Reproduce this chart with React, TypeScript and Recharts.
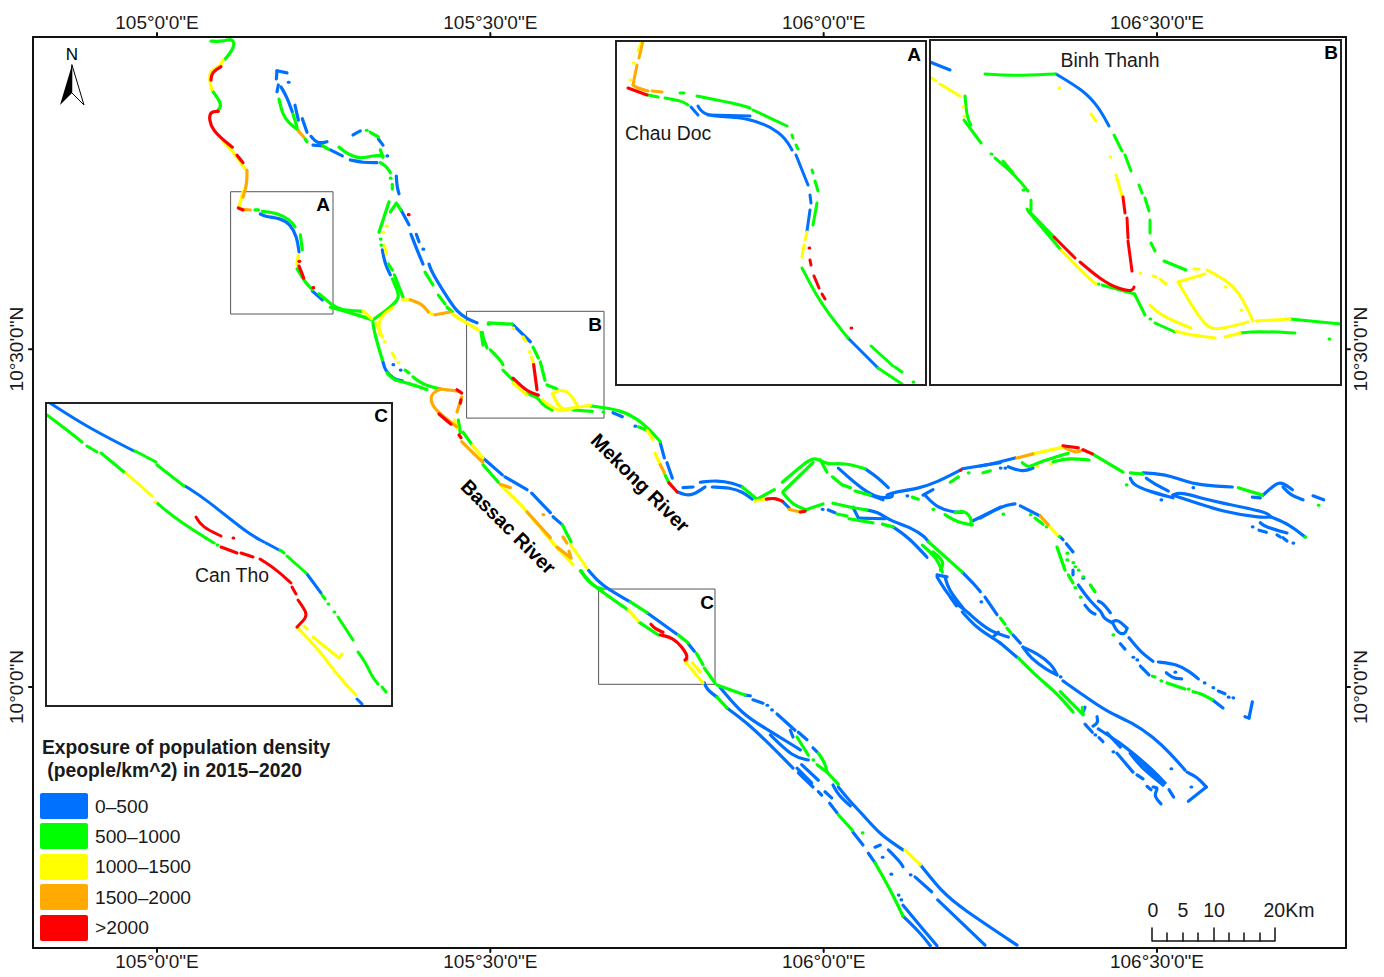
import { ComposedChart, Line, XAxis, YAxis, ReferenceArea } from "recharts"

type Pt = [number, number]
type Trace = Pt[]

// [lon, lat] runs along the river banks, grouped by density class. A run of one point is an isolated dot.
const mainBlue: Trace[] = [
  [[105.155,10.7],[105.162,10.696],[105.185,10.694],[105.2,10.685],[105.21,10.666],[105.213,10.644]],
  [[105.233,10.586],[105.248,10.573]],
  [[105.179,10.9],[105.18,10.912]],
  [[105.18,10.912],[105.195,10.909]],
  [[105.197,10.895]],
  [[105.182,10.891],[105.18,10.881]],
  [[105.186,10.888],[105.195,10.873],[105.203,10.851]],
  [[105.207,10.861],[105.212,10.839]],
  [[105.218,10.841],[105.225,10.821]],
  [[105.231,10.815],[105.24,10.804],[105.255,10.807]],
  [[105.234,10.802],[105.249,10.801]],
  [[105.26,10.795],[105.278,10.786]],
  [[105.29,10.78],[105.309,10.776],[105.33,10.776]],
  [[105.359,10.756],[105.36,10.74],[105.363,10.73]],
  [[105.345,10.786]],
  [[105.294,10.817],[105.305,10.823]],
  [[105.332,10.811],[105.339,10.802]],
  [[105.366,10.706],[105.378,10.684]],
  [[105.381,10.67],[105.39,10.647],[105.399,10.626]],
  [[105.389,10.67],[105.393,10.659]],
  [[105.399,10.648]],
  [[105.338,10.647],[105.342,10.626],[105.35,10.61]],
  [[105.408,10.626],[105.412,10.614],[105.435,10.577],[105.45,10.555],[105.465,10.545],[105.48,10.539]],
  [[105.339,10.481],[105.342,10.469],[105.354,10.456],[105.368,10.453]],
  [[105.354,10.477]],
  [[105.365,10.469]],
  [[105.489,10.339],[105.518,10.314]],
  [[105.522,10.311],[105.555,10.292]],
  [[105.562,10.287],[105.59,10.258]],
  [[105.594,10.252],[105.608,10.24]],
  [[105.533,10.537],[105.56,10.511]],
  [[105.684,10.406],[105.698,10.4]],
  [[105.717,10.386]],
  [[105.755,10.361],[105.761,10.339]],
  [[105.765,10.332],[105.773,10.309]],
  [[105.78,10.289],[105.792,10.284],[105.804,10.284],[105.822,10.296]],
  [[105.789,10.295],[105.804,10.296]],
  [[105.815,10.303],[105.84,10.306],[105.864,10.302],[105.878,10.296]],
  [[105.833,10.296],[105.86,10.295],[105.878,10.289],[105.893,10.278]],
  [[105.939,10.274],[105.948,10.265]],
  [[106.022,10.324],[106.05,10.299],[106.077,10.28],[106.103,10.28],[106.103,10.284]],
  [[106.062,10.323],[106.08,10.311],[106.097,10.295]],
  [[106.07,10.284],[106.089,10.277]],
  [[106.095,10.284],[106.107,10.289],[106.14,10.293],[106.17,10.303],[106.205,10.321]],
  [[106.208,10.323],[106.265,10.332]],
  [[106.125,10.283]],
  [[106.149,10.284],[106.164,10.292]],
  [[106.152,10.284],[106.17,10.265],[106.197,10.258],[106.209,10.259]],
  [[106.224,10.246],[106.265,10.266]],
  [[106.235,10.25],[106.269,10.269],[106.287,10.271]],
  [[106.295,10.268],[106.325,10.253]],
  [[105.998,10.263]],
  [[106.007,10.262],[106.017,10.258]],
  [[106.044,10.266],[106.052,10.25]],
  [[106.052,10.25],[106.092,10.249]],
  [[106.065,10.262],[106.082,10.259],[106.097,10.247],[106.134,10.235],[106.152,10.222],[106.157,10.215]],
  [[106.104,10.237],[106.127,10.222],[106.155,10.192]],
  [[106.17,10.166],[106.185,10.163]],
  [[106.17,10.163],[106.185,10.139],[106.2,10.121],[106.209,10.117],[106.232,10.096],[106.253,10.081],[106.277,10.074]],
  [[106.182,10.163],[106.187,10.144],[106.209,10.117]],
  [[106.19,10.133],[106.199,10.12]],
  [[106.208,10.17],[106.227,10.151],[106.235,10.141]],
  [[106.236,10.126]],
  [[106.242,10.133],[106.26,10.107]],
  [[106.284,10.077],[106.295,10.065]],
  [[106.208,10.111],[106.23,10.087],[106.253,10.073],[106.265,10.065]],
  [[106.253,10.073],[106.262,10.081]],
  [[106.265,10.065],[106.29,10.044]],
  [[106.299,10.059],[106.31,10.043],[106.335,10.025],[106.35,10.018]],
  [[106.35,10.018],[106.343,10.033],[106.32,10.05],[106.299,10.059]],
  [[106.355,10.015]],
  [[106.359,10.009],[106.385,9.991],[106.425,9.963],[106.464,9.947],[106.494,9.926],[106.52,9.902],[106.542,9.877]],
  [[106.545,9.874],[106.56,9.867],[106.574,9.852]],
  [[106.574,9.852],[106.547,9.831]],
  [[106.551,9.852]],
  [[106.521,9.879]],
  [[106.392,9.97],[106.389,9.963]],
  [[106.41,9.956],[106.412,9.947],[106.404,9.942]],
  [[106.392,9.945],[106.403,9.933]],
  [[106.407,9.929]],
  [[106.413,9.925],[106.419,9.919]],
  [[106.412,9.938],[106.445,9.917],[106.464,9.902],[106.494,9.877],[106.512,9.858]],
  [[106.425,9.932],[106.445,9.911]],
  [[106.46,9.902],[106.475,9.882],[106.509,9.855]],
  [[106.509,9.855],[106.485,9.882],[106.46,9.902]],
  [[106.434,9.904]],
  [[106.44,9.902],[106.464,9.874]],
  [[106.47,9.87],[106.479,9.864]],
  [[106.485,9.853],[106.491,9.848]],
  [[106.494,9.852],[106.503,9.851],[106.494,9.84],[106.506,9.827]],
  [[106.518,9.848],[106.525,9.837]],
  [[106.355,10.222],[106.359,10.218]],
  [[106.364,10.212],[106.374,10.2]],
  [[106.374,10.173],[106.374,10.166]],
  [[106.389,10.161]],
  [[106.382,10.151],[106.4,10.126],[106.418,10.111],[106.419,10.102],[106.433,10.095]],
  [[106.433,10.096],[106.44,10.101],[106.455,10.087]],
  [[106.455,10.087],[106.452,10.077],[106.44,10.081],[106.433,10.096]],
  [[106.392,10.121],[106.4,10.111],[106.407,10.108]],
  [[106.412,10.127],[106.419,10.124],[106.43,10.11]],
  [[106.445,10.064],[106.452,10.056]],
  [[106.458,10.073],[106.475,10.052],[106.494,10.038]],
  [[106.502,10.037],[106.53,10.034],[106.55,10.022],[106.562,10.012]],
  [[106.514,10.021],[106.524,10.013],[106.537,10.012]],
  [[106.527,10.022]],
  [[106.464,10.044]],
  [[106.47,10.04]],
  [[106.475,10.031],[106.488,10.018]],
  [[106.583,9.981],[106.599,9.969]],
  [[106.571,10.006]],
  [[106.584,9.999]],
  [[106.592,9.994],[106.602,9.99]],
  [[106.607,9.985]],
  [[106.614,9.984]],
  [[106.643,9.978],[106.638,9.954]],
  [[106.638,9.954],[106.632,9.956]],
  [[106.235,10.327],[106.26,10.332],[106.287,10.339]],
  [[106.277,10.326],[106.299,10.318],[106.314,10.324]],
  [[106.265,10.324]],
  [[106.272,10.324]],
  [[106.479,10.317],[106.52,10.314],[106.554,10.299],[106.613,10.296]],
  [[106.484,10.309],[106.494,10.302],[106.517,10.29]],
  [[106.46,10.309],[106.464,10.299],[106.49,10.289],[106.524,10.28]],
  [[106.554,10.295]],
  [[106.506,10.277]],
  [[106.524,10.284],[106.535,10.289],[106.575,10.277],[106.599,10.272],[106.665,10.259],[106.67,10.252]],
  [[106.67,10.252],[106.659,10.25],[106.599,10.259],[106.545,10.277],[106.524,10.284]],
  [[106.67,10.252],[106.7,10.24],[106.722,10.222]],
  [[106.655,10.243],[106.662,10.237],[106.695,10.228]],
  [[106.653,10.232],[106.664,10.229]],
  [[106.643,10.237]],
  [[106.68,10.225],[106.685,10.222]],
  [[106.689,10.221],[106.695,10.216]],
  [[106.704,10.213]],
  [[106.643,10.281],[106.655,10.28]],
  [[106.659,10.284],[106.68,10.303],[106.689,10.302],[106.703,10.292]],
  [[106.689,10.296],[106.7,10.284],[106.719,10.277]],
  [[106.734,10.283],[106.75,10.277]],
  [[105.647,10.173],[105.665,10.151],[105.71,10.126]],
  [[105.735,10.11],[105.78,10.078]],
  [[105.797,10.064],[105.806,10.053]],
  [[105.821,10.006],[105.825,9.996],[105.84,9.985]],
  [[105.855,9.969],[105.885,9.947],[105.915,9.919],[105.954,9.88]],
  [[105.845,9.999],[105.879,9.959],[105.909,9.941],[105.965,9.907]],
  [[105.882,9.988],[105.89,9.987]],
  [[105.894,9.981],[105.909,9.976]],
  [[105.915,9.973]],
  [[105.922,9.966]],
  [[105.93,9.96],[105.957,9.936]],
  [[105.95,9.936],[105.954,9.926]],
  [[105.962,9.933],[105.975,9.922]],
  [[105.92,9.929],[105.954,9.896],[105.977,9.892]],
  [[105.984,9.91],[105.99,9.904]],
  [[105.96,9.88],[105.982,9.858]],
  [[105.967,9.885],[105.992,9.862]],
  [[105.962,9.873],[105.984,9.852]],
  [[105.992,9.845],[105.997,9.84]],
  [[106.002,9.845],[106.012,9.836]],
  [[106.009,9.828],[106.02,9.814]],
  [[106.014,9.855],[106.022,9.84],[106.04,9.824]],
  [[106.022,9.852],[106.04,9.83],[106.059,9.811],[106.085,9.781],[106.119,9.759]],
  [[106.145,9.737],[106.179,9.695],[106.205,9.674],[106.29,9.618]],
  [[106.044,9.785],[106.059,9.766]],
  [[106.077,9.763],[106.085,9.766]],
  [[106.088,9.748]],
  [[106.067,9.754],[106.077,9.74]],
  [[106.097,9.759],[106.115,9.741],[106.119,9.734]],
  [[106.13,9.722]],
  [[106.137,9.719],[106.162,9.697]],
  [[106.171,9.685],[106.242,9.618]],
  [[106.101,9.723]],
  [[106.119,9.661],[106.145,9.636],[106.16,9.617]],
  [[106.119,9.677],[106.14,9.652],[106.17,9.617]],
  [[106.112,9.692]],
  [[106.116,9.685]],
]

const mainGreen: Trace[] = [
  [[105.081,10.956],[105.099,10.955],[105.114,10.961],[105.117,10.947],[105.102,10.929]],
  [[105.084,10.881],[105.095,10.866],[105.096,10.858],[105.09,10.852]],
  [[105.147,10.706],[105.152,10.706]],
  [[105.158,10.704],[105.18,10.702],[105.2,10.691],[105.207,10.681]],
  [[105.215,10.669],[105.218,10.647]],
  [[105.21,10.619],[105.222,10.599],[105.233,10.588]],
  [[105.243,10.582],[105.264,10.564],[105.275,10.558],[105.309,10.556]],
  [[105.26,10.562],[105.3,10.551],[105.324,10.543]],
  [[105.183,10.87],[105.188,10.848],[105.197,10.835],[105.212,10.824]],
  [[105.222,10.811],[105.225,10.807]],
  [[105.204,10.848],[105.21,10.829]],
  [[105.249,10.801],[105.257,10.796]],
  [[105.273,10.799],[105.285,10.789],[105.305,10.781],[105.324,10.787],[105.339,10.786]],
  [[105.335,10.795],[105.339,10.784]],
  [[105.335,10.776],[105.345,10.77],[105.35,10.761]],
  [[105.35,10.753]],
  [[105.353,10.744],[105.353,10.737]],
  [[105.314,10.824]],
  [[105.32,10.821],[105.332,10.814]],
  [[105.348,10.718],[105.342,10.7],[105.333,10.673]],
  [[105.35,10.703],[105.359,10.716]],
  [[105.359,10.716],[105.366,10.706]],
  [[105.335,10.663]],
  [[105.336,10.654]],
  [[105.347,10.626],[105.353,10.617]],
  [[105.356,10.61],[105.369,10.577]],
  [[105.353,10.604],[105.363,10.582],[105.362,10.573],[105.345,10.558],[105.326,10.545]],
  [[105.402,10.614],[105.414,10.595]],
  [[105.422,10.58],[105.432,10.567]],
  [[105.435,10.562],[105.443,10.555]],
  [[105.488,10.525],[105.489,10.518]],
  [[105.497,10.537]],
  [[105.324,10.539],[105.326,10.524],[105.338,10.484]],
  [[105.345,10.465],[105.354,10.454],[105.377,10.45],[105.405,10.44]],
  [[105.384,10.459],[105.399,10.447],[105.425,10.441]],
  [[105.372,10.469],[105.378,10.465]],
  [[105.452,10.395],[105.455,10.376]],
  [[105.459,10.377],[105.473,10.358]],
  [[105.489,10.329],[105.512,10.303]],
  [[105.608,10.24],[105.621,10.215]],
  [[105.636,10.172],[105.654,10.148],[105.669,10.145]],
  [[105.497,10.539],[105.533,10.537]],
  [[105.564,10.503],[105.572,10.487]],
  [[105.575,10.481],[105.582,10.454]],
  [[105.585,10.447],[105.6,10.441]],
  [[105.486,10.525],[105.489,10.506]],
  [[105.489,10.517],[105.495,10.502]],
  [[105.5,10.499],[105.515,10.484],[105.519,10.477]],
  [[105.519,10.469],[105.534,10.454]],
  [[105.555,10.434],[105.572,10.429],[105.578,10.417],[105.593,10.41]],
  [[105.624,10.41],[105.653,10.408]],
  [[105.65,10.416],[105.695,10.411],[105.729,10.392],[105.755,10.363]],
  [[105.669,10.407]],
  [[105.722,10.385],[105.735,10.38]],
  [[105.762,10.314],[105.768,10.302]],
  [[105.878,10.296],[105.9,10.278]],
  [[105.9,10.278],[105.926,10.292]],
  [[105.972,10.262],[105.999,10.271]],
  [[105.938,10.303],[105.972,10.332],[105.984,10.339],[105.995,10.336],[106.005,10.329],[106.032,10.332],[106.062,10.323]],
  [[105.939,10.289],[105.984,10.332]],
  [[105.939,10.287],[105.954,10.269],[105.975,10.262]],
  [[105.995,10.336],[106.005,10.318]],
  [[106.013,10.311],[106.028,10.299]],
  [[106.029,10.299],[106.04,10.295]],
  [[106.047,10.29],[106.07,10.284]],
  [[106.19,10.303],[106.202,10.311]],
  [[106.217,10.317]],
  [[106.239,10.317],[106.25,10.32]],
  [[106.133,10.281],[106.142,10.278]],
  [[106.197,10.258],[106.212,10.262],[106.223,10.247],[106.22,10.24]],
  [[106.182,10.255],[106.202,10.243],[106.223,10.24]],
  [[106.164,10.263]],
  [[106.02,10.256],[106.035,10.253]],
  [[106.014,10.272],[106.044,10.265],[106.065,10.262]],
  [[106.038,10.249],[106.074,10.243]],
  [[106.088,10.241],[106.104,10.237]],
  [[106.157,10.215],[106.208,10.17]],
  [[106.148,10.21],[106.17,10.191],[106.178,10.17]],
  [[106.164,10.2],[106.182,10.185],[106.175,10.173]],
  [[106.265,10.102],[106.272,10.093]],
  [[106.275,10.087],[106.281,10.08]],
  [[106.292,10.043],[106.32,10.015],[106.35,9.991],[106.374,9.963]],
  [[106.355,9.993],[106.389,9.959]],
  [[106.388,9.97],[106.389,9.959]],
  [[106.35,10.207],[106.362,10.173]],
  [[106.365,10.198]],
  [[106.365,10.188]],
  [[106.374,10.184]],
  [[106.377,10.178]],
  [[106.382,10.173]],
  [[106.389,10.163]],
  [[106.377,10.147]],
  [[106.385,10.133]],
  [[106.434,10.077]],
  [[106.367,10.166],[106.374,10.154]],
  [[106.4,10.151],[106.407,10.141]],
  [[106.493,10.016],[106.497,10.015]],
  [[106.506,10.009]],
  [[106.515,10.006],[106.542,9.997]],
  [[106.547,9.997]],
  [[106.554,9.993],[106.565,9.991],[106.583,9.981]],
  [[106.403,10.345],[106.449,10.318]],
  [[106.367,10.346],[106.32,10.332],[106.307,10.324],[106.298,10.332]],
  [[106.344,10.333],[106.367,10.339],[106.398,10.336]],
  [[106.46,10.317],[106.479,10.315]],
  [[106.454,10.299]],
  [[106.622,10.295],[106.658,10.284]],
  [[106.742,10.269]],
  [[106.722,10.222]],
  [[106.317,10.25],[106.329,10.241]],
  [[106.269,10.256]],
  [[106.31,10.255]],
  [[106.334,10.237]],
  [[106.353,10.223]],
  [[105.635,10.172],[105.645,10.158],[105.662,10.145],[105.705,10.115]],
  [[105.71,10.126],[105.735,10.11]],
  [[105.782,10.077],[105.797,10.065]],
  [[105.809,10.05],[105.819,10.033]],
  [[105.821,10.028],[105.837,10.006]],
  [[105.723,10.096],[105.752,10.077]],
  [[105.84,9.985],[105.855,9.969]],
  [[105.84,10.003],[105.882,9.988]],
  [[105.96,9.926],[105.977,9.899]],
  [[105.992,9.902],[106.002,9.888],[106.005,9.874]],
  [[106.005,9.874],[105.99,9.885]],
  [[105.984,9.892]],
  [[106.005,9.874],[106.022,9.856]],
  [[106.022,9.811],[106.043,9.788]],
  [[106.058,9.784]],
  [[106.077,9.74],[106.1,9.7],[106.119,9.661]],
]

const mainYellow: Trace[] = [
  [[105.099,10.928],[105.095,10.918],[105.081,10.913],[105.078,10.903],[105.082,10.884]],
  [[105.099,10.808],[105.117,10.789],[105.132,10.767]],
  [[105.129,10.733],[105.123,10.71]],
  [[105.212,10.639],[105.21,10.625]],
  [[105.309,10.556],[105.322,10.545]],
  [[105.344,10.682]],
  [[105.339,10.673]],
  [[105.341,10.654],[105.344,10.641]],
  [[105.354,10.562],[105.33,10.545],[105.335,10.521]],
  [[105.368,10.573],[105.38,10.573]],
  [[105.407,10.555],[105.414,10.551]],
  [[105.443,10.552],[105.48,10.53]],
  [[105.329,10.539],[105.338,10.518]],
  [[105.341,10.511]],
  [[105.353,10.494],[105.357,10.487]],
  [[105.362,10.48]],
  [[105.446,10.395],[105.45,10.383]],
  [[105.473,10.358],[105.489,10.339]],
  [[105.621,10.21],[105.645,10.176]],
  [[105.515,10.299],[105.555,10.262],[105.585,10.222],[105.624,10.181]],
  [[105.444,10.551],[105.482,10.528]],
  [[105.534,10.531]],
  [[105.549,10.518],[105.553,10.512]],
  [[105.558,10.496]],
  [[105.562,10.488],[105.565,10.477]],
  [[105.534,10.45],[105.555,10.432]],
  [[105.593,10.434],[105.605,10.441],[105.62,10.435],[105.63,10.417]],
  [[105.593,10.434],[105.602,10.417],[105.608,10.41],[105.63,10.414]],
  [[105.578,10.425],[105.593,10.413],[105.609,10.407],[105.624,10.413]],
  [[105.63,10.414],[105.65,10.417]],
  [[105.735,10.38],[105.744,10.366]],
  [[105.747,10.346],[105.755,10.329]],
  [[105.897,10.275],[105.912,10.278]],
  [[106.314,10.345],[106.359,10.355]],
  [[106.32,10.326]],
  [[106.34,10.33]],
  [[106.337,10.24],[106.35,10.225]],
  [[105.707,10.114],[105.722,10.098]],
  [[105.792,10.038],[105.819,10.006]],
  [[105.803,10.036],[105.815,10.022]],
  [[106.122,9.759],[106.145,9.737]],
]

const mainOrange: Trace[] = [
  [[105.135,10.765],[105.135,10.744],[105.129,10.725]],
  [[105.129,10.707],[105.14,10.706]],
  [[105.212,10.823],[105.22,10.814]],
  [[105.38,10.573],[105.398,10.567],[105.407,10.555]],
  [[105.417,10.551],[105.44,10.555]],
  [[105.425,10.441],[105.452,10.438]],
  [[105.457,10.429],[105.45,10.407]],
  [[105.425,10.441],[105.412,10.435],[105.41,10.422],[105.42,10.407],[105.45,10.385]],
  [[105.457,10.363],[105.489,10.332]],
  [[105.515,10.3],[105.53,10.295]],
  [[105.555,10.259],[105.59,10.221]],
  [[105.6,10.207],[105.621,10.191]],
  [[105.621,10.191],[105.618,10.201]],
  [[105.609,10.222],[105.615,10.213]],
  [[105.579,10.255]],
  [[105.755,10.329],[105.761,10.317]],
  [[105.948,10.263],[105.965,10.259]],
  [[106.29,10.339],[106.314,10.345]],
  [[106.362,10.354],[106.377,10.346],[106.389,10.351]],
  [[106.325,10.253],[106.337,10.24]],
  [[105.794,10.04]],
]

const mainRed: Trace[] = [
  [[105.096,10.918],[105.082,10.91],[105.081,10.898]],
  [[105.092,10.852],[105.08,10.852],[105.078,10.839],[105.084,10.824],[105.099,10.81],[105.113,10.799]],
  [[105.12,10.787],[105.129,10.776]],
  [[105.122,10.709],[105.129,10.706]],
  [[105.213,10.63]],
  [[105.213,10.623],[105.218,10.611],[105.22,10.605]],
  [[105.234,10.591]],
  [[105.377,10.699]],
  [[105.45,10.44],[105.457,10.435]],
  [[105.456,10.425],[105.455,10.42]],
  [[105.423,10.404],[105.441,10.389]],
  [[105.453,10.373],[105.456,10.369]],
  [[105.565,10.477],[105.57,10.44]],
  [[105.534,10.457],[105.555,10.437],[105.572,10.432]],
  [[105.768,10.302],[105.78,10.289]],
  [[105.914,10.278],[105.927,10.28],[105.938,10.275]],
  [[105.965,10.259],[105.972,10.26]],
  [[106.205,10.321]],
  [[106.359,10.357],[106.382,10.354]],
  [[106.389,10.351],[106.403,10.345]],
  [[105.741,10.093],[105.747,10.086],[105.759,10.081]],
  [[105.755,10.077],[105.774,10.073],[105.788,10.059],[105.797,10.044],[105.792,10.04]],
]

const insetABlue: Trace[] = [
  [[105.148,10.7],[105.1515,10.696]],
  [[105.1515,10.7005],[105.1535,10.697],[105.16,10.695],[105.1765,10.695],[105.1935,10.6875],[105.1985,10.6785]],
  [[105.1565,10.696],[105.1775,10.6955]],
  [[105.2005,10.676],[105.2065,10.661]],
  [[105.2075,10.656],[105.208,10.652]],
  [[105.2075,10.6485],[105.206,10.638]],
  [[105.2265,10.5845],[105.2415,10.5695]],
]
const insetAGreen: Trace[] = [
  [[105.1265,10.706],[105.1315,10.705]],
  [[105.135,10.7045],[105.1435,10.703],[105.1465,10.701]],
  [[105.1425,10.707],[105.1445,10.707]],
  [[105.151,10.7055],[105.1735,10.701],[105.1775,10.6995]],
  [[105.179,10.6985],[105.196,10.6905]],
  [[105.1985,10.686],[105.199,10.6845]],
  [[105.2005,10.681],[105.2015,10.679]],
  [[105.2085,10.6685],[105.209,10.667]],
  [[105.21,10.663],[105.2115,10.658]],
  [[105.211,10.652],[105.209,10.641]],
  [[105.2035,10.6195],[105.21,10.607],[105.2165,10.597],[105.2265,10.5845]],
  [[105.2415,10.5695],[105.2535,10.5615]],
  [[105.238,10.5805],[105.249,10.5705]],
  [[105.25,10.57],[105.2535,10.5675]],
  [[105.259,10.5625]],
]
const insetAYellow: Trace[] = [
  [[105.1215,10.728],[105.1235,10.733]],
  [[105.119,10.722]],
  [[105.1175,10.7135]],
  [[105.206,10.6375],[105.205,10.6335]],
  [[105.2045,10.631],[105.2035,10.625]],
]
const insetAOrange: Trace[] = [
  [[105.124,10.733],[105.122,10.7245]],
  [[105.121,10.721],[105.119,10.711]],
  [[105.119,10.711],[105.121,10.7095],[105.1265,10.708]],
  [[105.1285,10.708],[105.1335,10.7075]],
]
const insetARed: Trace[] = [
  [[105.1165,10.7095],[105.126,10.706]],
  [[105.207,10.6295]],
  [[105.2075,10.6235],[105.208,10.621]],
  [[105.2095,10.6155],[105.212,10.6095]],
  [[105.2135,10.6065],[105.215,10.604]],
  [[105.228,10.5895]],
]

const insetBBlue: Trace[] = [
  [[105.4655,10.545],[105.4755,10.541]],
  [[105.5285,10.539],[105.542,10.531],[105.5495,10.523],[105.555,10.513]],
]
const insetBGreen: Trace[] = [
  [[105.493,10.539],[105.506,10.538],[105.528,10.539]],
  [[105.483,10.528],[105.484,10.517],[105.486,10.5135]],
  [[105.4825,10.516],[105.491,10.5045]],
  [[105.496,10.499]],
  [[105.498,10.497],[105.508,10.4885],[105.5145,10.4805]],
  [[105.502,10.4955],[105.507,10.4895]],
  [[105.512,10.481]],
  [[105.516,10.476],[105.516,10.471]],
  [[105.514,10.4715],[105.528,10.457]],
  [[105.5145,10.4705],[105.531,10.451]],
  [[105.5495,10.434]],
  [[105.5515,10.4335],[105.568,10.429]],
  [[105.568,10.4285],[105.573,10.4185]],
  [[105.5755,10.4165]],
  [[105.578,10.4145],[105.588,10.41]],
  [[105.5575,10.5085],[105.5615,10.5005]],
  [[105.563,10.4985],[105.566,10.4905]],
  [[105.57,10.4835],[105.5715,10.4795]],
  [[105.573,10.477],[105.575,10.4705]],
  [[105.5755,10.466],[105.5755,10.4595]],
  [[105.576,10.4545],[105.578,10.4505]],
  [[105.5825,10.4455],[105.5935,10.441]],
  [[105.6205,10.4095],[105.6285,10.4105],[105.648,10.4095]],
  [[105.6455,10.4165],[105.671,10.414]],
  [[105.665,10.4065]],
]
const insetBYellow: Trace[] = [
  [[105.4655,10.5375],[105.4685,10.5355]],
  [[105.4705,10.534],[105.4805,10.528]],
  [[105.482,10.5225]],
  [[105.4825,10.518]],
  [[105.53,10.532]],
  [[105.5555,10.4975]],
  [[105.5705,10.4395]],
  [[105.613,10.4325]],
  [[105.621,10.421]],
  [[105.546,10.519],[105.5485,10.5155]],
  [[105.5585,10.4885],[105.5615,10.478]],
  [[105.531,10.451],[105.543,10.4385],[105.5485,10.434]],
  [[105.5975,10.4415],[105.6,10.4415]],
  [[105.604,10.441],[105.6145,10.4355],[105.621,10.4285],[105.627,10.4155]],
  [[105.5895,10.435],[105.603,10.439]],
  [[105.5895,10.435],[105.603,10.412],[105.6095,10.411],[105.6245,10.415]],
  [[105.577,10.438],[105.5785,10.4375]],
  [[105.5805,10.4365],[105.5835,10.434]],
  [[105.5755,10.4235],[105.581,10.418],[105.596,10.412]],
  [[105.5885,10.4105],[105.593,10.409],[105.608,10.407]],
  [[105.613,10.4075],[105.6205,10.4095]],
  [[105.6285,10.4155],[105.6455,10.4165]],
]
const insetBRed: Trace[] = [
  [[105.5275,10.4575],[105.538,10.447]],
  [[105.5405,10.445],[105.551,10.436],[105.561,10.431],[105.567,10.4305],[105.5675,10.4325]],
  [[105.562,10.4775],[105.563,10.4695]],
  [[105.564,10.467],[105.5645,10.457]],
  [[105.5645,10.4555],[105.5665,10.4405]],
]

const insetCBlue: Trace[] = [
  [[105.665,10.145],[105.6835,10.133],[105.707,10.121]],
  [[105.7325,10.1035],[105.7435,10.0965],[105.7635,10.08],[105.772,10.0755]],
  [[105.773,10.075],[105.7795,10.0715]],
  [[105.7935,10.0595],[105.8005,10.05]],
  [[105.8185,9.997],[105.821,9.9945]],
]
const insetCGreen: Trace[] = [
  [[105.7075,10.121],[105.718,10.1155]],
  [[105.7185,10.114],[105.732,10.1035]],
  [[105.78,10.0715],[105.782,10.07]],
  [[105.7835,10.0685],[105.793,10.06]],
  [[105.801,10.049],[105.8025,10.047]],
  [[105.804,10.0445]],
  [[105.807,10.0405]],
  [[105.809,10.038],[105.8165,10.0265]],
  [[105.819,10.0205],[105.823,10.015],[105.826,10.008],[105.829,10.0045]],
  [[105.831,10.003],[105.833,10.0005]],
  [[105.6635,10.139],[105.6735,10.1315],[105.681,10.1255]],
  [[105.6835,10.1235],[105.6885,10.1205]],
  [[105.6905,10.12],[105.702,10.1105]],
  [[105.7185,10.095],[105.7285,10.0865],[105.747,10.075]],
  [[105.7485,10.074]],
]
const insetCYellow: Trace[] = [
  [[105.703,10.11],[105.716,10.0985]],
  [[105.7175,10.0955]],
  [[105.7885,10.033],[105.8005,10.0205],[105.8085,10.009],[105.818,9.999]],
  [[105.792,10.0335],[105.7935,10.032]],
  [[105.7965,10.028],[105.8095,10.0175]],
  [[105.8095,10.0175],[105.811,10.0195]],
]
const insetCOrange: Trace[] = [[[105.7885,10.033]]]
const insetCRed: Trace[] = [
  [[105.738,10.088],[105.741,10.083],[105.7505,10.0785]],
  [[105.7565,10.0775]],
  [[105.7505,10.073],[105.7585,10.07]],
  [[105.7605,10.07],[105.7665,10.068]],
  [[105.77,10.067],[105.7785,10.0615],[105.7855,10.055]],
  [[105.786,10.053],[105.788,10.0495]],
  [[105.789,10.0465],[105.7935,10.04],[105.793,10.0375],[105.7885,10.033]],
]

const lonTicks = [105, 105.5, 106, 106.5]
const latTicks = [10, 10.5]
const legendLabels = ["0–500", "500–1000", "1000–1500", "1500–2000", ">2000"]
const classColors = ["#0070ff", "#00ff00", "#ffff00", "#ffaa00", "#ff0000"]

const FONT = '"Liberation Sans", Arial, sans-serif'
const INK = "#1a1a1a"

function lonLabel(v: number) {
  const deg = Math.floor(v)
  const min = Math.round((v - deg) * 60)
  return `${deg}°${min}'0"E`
}

function latLabel(v: number) {
  const deg = Math.floor(v)
  const min = Math.round((v - deg) * 60)
  return `${deg}°${min}'0"N`
}

function LatTick({ x, y, payload, side }: any) {
  const tx = side === "left" ? x - 4 : x + 15
  return (
    <text
      x={tx}
      y={y}
      transform={`rotate(-90 ${tx} ${y})`}
      textAnchor="middle"
      fontSize={19}
      fontFamily={FONT}
      fill={INK}
    >
      {latLabel(payload.value)}
    </text>
  )
}

function LonTick({ x, y, payload, side }: any) {
  return (
    <text x={x} y={side === "top" ? y - 2 : y + 14} textAnchor="middle" fontSize={19} fontFamily={FONT} fill={INK}>
      {lonLabel(payload.value)}
    </text>
  )
}

function traceLines(groups: Trace[][], width: number, dotStep: number) {
  return groups.flatMap((group, c) =>
    group.map((trace, i) => {
      // a lone point still needs a short path so the round cap paints a dot
      const run: Trace = trace.length === 1 ? [trace[0], [trace[0][0] + dotStep, trace[0][1]]] : trace
      return (
        <Line
          key={`${c}-${i}`}
          type="basis"
          data={run.map(([lon, lat]) => ({ lon, lat }))}
          dataKey="lat"
          xAxisId="x"
          yAxisId="y"
          stroke={classColors[c]}
          strokeWidth={width}
          strokeLinecap="round"
          strokeLinejoin="round"
          dot={false}
          activeDot={false}
          isAnimationActive={false}
        />
      )
    }),
  )
}

function Inset({ left, top, width, height, lon, lat, groups, frame, letter }: any) {
  return (
    <>
      <div style={{ position: "absolute", left, top, width, height, background: "#fff", overflow: "hidden" }}>
        <ComposedChart width={width} height={height} margin={{ top: 0, right: 0, bottom: 0, left: 0 }}>
          <XAxis xAxisId="x" type="number" dataKey="lon" domain={lon} hide allowDataOverflow />
          <YAxis yAxisId="y" type="number" domain={lat} hide allowDataOverflow />
          {traceLines(groups, 3, 0.0004)}
        </ComposedChart>
      </div>
      <div
        style={{
          position: "absolute",
          left: frame[0],
          top: frame[1],
          width: frame[2],
          height: frame[3],
          boxSizing: "border-box",
          border: "2px solid #222",
        }}
      />
      <Label x={letter[0]} y={letter[1]} text={letter[2]} size={19} bold />
    </>
  )
}

function Label({ x, y, text, size = 19.4, bold = false, rotate = 0 }: any) {
  return (
    <div
      style={{
        position: "absolute",
        left: x,
        top: y,
        transform: `translate(-50%, -50%) rotate(${rotate}deg)`,
        fontFamily: FONT,
        fontSize: size,
        fontWeight: bold ? 700 : 400,
        color: bold ? "#000" : INK,
        whiteSpace: "nowrap",
      }}
    >
      {text}
    </div>
  )
}

export default function App() {
  const scaleTicks = [1152, 1167, 1183, 1198, 1214, 1229, 1244, 1260, 1275]
  return (
    <div
      style={{
        position: "absolute",
        left: 0,
        top: 0,
        width: 1384,
        height: 977,
        background: "#fff",
        overflow: "hidden",
        strokeLinecap: "round",
        strokeLinejoin: "round",
      }}
    >
      <ComposedChart width={1384} height={977} margin={{ top: 0, right: 0, bottom: 0, left: 0 }}>
        <XAxis
          xAxisId="x"
          type="number"
          dataKey="lon"
          orientation="bottom"
          height={29}
          domain={[104.814, 106.7835]}
          ticks={lonTicks}
          interval={0}
          tickSize={4}
          allowDataOverflow
          axisLine={{ stroke: "#111", strokeWidth: 2 }}
          tickLine={{ stroke: "#111", strokeWidth: 2 }}
          tick={(p: any) => <LonTick {...p} side="bottom" />}
        />
        <XAxis
          xAxisId="top"
          type="number"
          dataKey="lon"
          orientation="top"
          height={37}
          domain={[104.814, 106.7835]}
          ticks={lonTicks}
          interval={0}
          tickSize={4}
          allowDataOverflow
          axisLine={{ stroke: "#111", strokeWidth: 2 }}
          tickLine={{ stroke: "#111", strokeWidth: 2 }}
          tick={(p: any) => <LonTick {...p} side="top" />}
        />
        <YAxis
          yAxisId="y"
          type="number"
          orientation="left"
          width={33}
          domain={[9.61372, 10.962]}
          ticks={latTicks}
          tickSize={4}
          allowDataOverflow
          axisLine={{ stroke: "#111", strokeWidth: 2 }}
          tickLine={{ stroke: "#111", strokeWidth: 2 }}
          tick={(p: any) => <LatTick {...p} side="left" />}
        />
        <YAxis
          yAxisId="right"
          type="number"
          orientation="right"
          width={38}
          domain={[9.61372, 10.962]}
          ticks={latTicks}
          tickSize={4}
          allowDataOverflow
          axisLine={{ stroke: "#111", strokeWidth: 2 }}
          tickLine={{ stroke: "#111", strokeWidth: 2 }}
          tick={(p: any) => <LatTick {...p} side="right" />}
        />
        {traceLines([mainBlue, mainGreen, mainYellow, mainOrange, mainRed], 3.2, 0.001)}
        <ReferenceArea xAxisId="x" yAxisId="y" x1={105.111} x2={105.264} y1={10.552} y2={10.733} fill="none" stroke="#555" strokeWidth={1} />
        <ReferenceArea xAxisId="x" yAxisId="y" x1={105.465} x2={105.6705} y1={10.398} y2={10.556} fill="none" stroke="#555" strokeWidth={1} />
        <ReferenceArea xAxisId="x" yAxisId="y" x1={105.663} x2={105.837} y1={10.004} y2={10.145} fill="none" stroke="#555" strokeWidth={1} />
      </ComposedChart>

      <Label x={323} y={205} text="A" size={19} bold />
      <Label x={595} y={325} text="B" size={19} bold />
      <Label x={707} y={603} text="C" size={19} bold />
      <Label x={640} y={483} text="Mekong River" size={19.8} bold rotate={45} />
      <Label x={508} y={527} text="Bassac River" size={19.8} bold rotate={45} />

      <Inset
        left={615}
        top={41}
        width={311}
        height={344}
        lon={[105.11, 105.2655]}
        lat={[10.561, 10.733]}
        groups={[insetABlue, insetAGreen, insetAYellow, insetAOrange, insetARed]}
        frame={[615, 40, 312, 346]}
        letter={[914, 55, "A"]}
      />
      <Inset
        left={929}
        top={40}
        width={412}
        height={345}
        lon={[105.465, 105.671]}
        lat={[10.3835, 10.556]}
        groups={[insetBBlue, insetBGreen, insetBYellow, [], insetBRed]}
        frame={[929, 39, 413, 347]}
        letter={[1331, 53, "B"]}
      />
      <Inset
        left={46}
        top={403}
        width={346}
        height={302}
        lon={[105.663, 105.836]}
        lat={[9.994, 10.145]}
        groups={[insetCBlue, insetCGreen, insetCYellow, insetCOrange, insetCRed]}
        frame={[45, 402, 348, 305]}
        letter={[381, 416, "C"]}
      />
      <Label x={668} y={133} text="Chau Doc" />
      <Label x={1110} y={60} text="Binh Thanh" />
      <Label x={232} y={575} text="Can Tho" />

      <div style={{ position: "absolute", left: 42, top: 736, fontFamily: FONT, fontWeight: 700, fontSize: 19.3, lineHeight: "23px", color: "#1a1a1a", whiteSpace: "pre" }}>
        {"Exposure of population density\n (people/km^2) in 2015–2020"}
      </div>
      {legendLabels.map((label, i) => (
        <div key={label} style={{ position: "absolute", left: 40, top: 793 + i * 30.4, height: 26, display: "flex", alignItems: "center" }}>
          <div style={{ width: 48, height: 26, background: classColors[i], borderRadius: 2 }} />
          <div
            style={{
              marginLeft: 7,
              paddingTop: 1,
              fontFamily: FONT,
              fontSize: 19.2,
              color: INK,
              clipPath: i === 4 ? "inset(0 0 4px 0)" : undefined,
            }}
          >
            {label}
          </div>
        </div>
      ))}

      <svg width={1384} height={977} style={{ position: "absolute", left: 0, top: 0, pointerEvents: "none" }}>
        <text x={72} y={60} textAnchor="middle" fontSize={17} fontFamily={FONT} fill="#000">N</text>
        <polygon points="72,65 60,105 72,93" fill="#000" />
        <polygon points="72,65 84,105 72,93" fill="#fff" stroke="#000" strokeWidth={1} />
        <path d={`M1152 928 V941 H1275 V928`} fill="none" stroke="#111" strokeWidth={1.5} />
        {scaleTicks.slice(1, -1).map((x, i) => (
          <line key={x} x1={x} x2={x} y1={i === 3 ? 928 : 933} y2={941} stroke="#111" strokeWidth={1.5} />
        ))}
        <g fontSize={19.5} fontFamily={FONT} fill={INK} textAnchor="middle">
          <text x={1153} y={917}>0</text>
          <text x={1183} y={917}>5</text>
          <text x={1214} y={917}>10</text>
          <text x={1289} y={917}>20Km</text>
        </g>
      </svg>
    </div>
  )
}
